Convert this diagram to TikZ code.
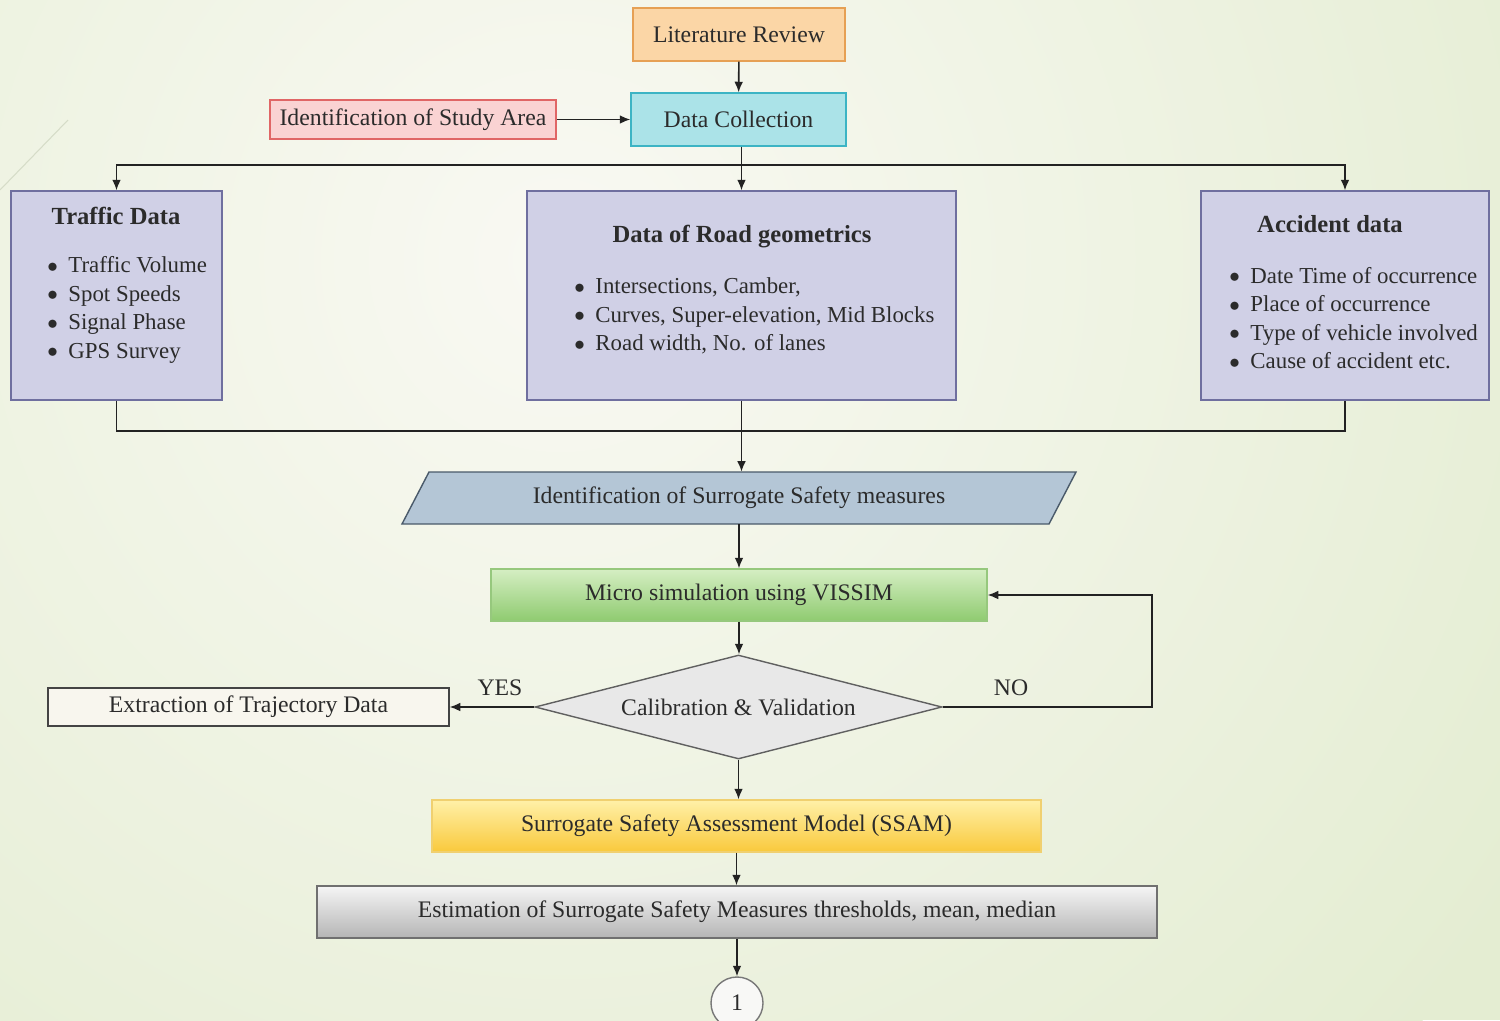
\documentclass[tikz,border=0pt]{standalone}
\usepackage{fontspec}
\setmainfont{Liberation Serif}
\usepackage{tikz}
\usetikzlibrary{arrows.meta,shapes.geometric}

\definecolor{txt}{HTML}{2B2B2B}
\definecolor{arrcol}{HTML}{222222}
\definecolor{bgin}{HTML}{F9F9F3}
\definecolor{bgout}{HTML}{E4EDD2}
\definecolor{bgline}{HTML}{D6DCC8}
\definecolor{litfill}{HTML}{FBD6A6}
\definecolor{litline}{HTML}{E6A054}
\definecolor{dcfill}{HTML}{ABE3E8}
\definecolor{dcline}{HTML}{3CB4C4}
\definecolor{safill}{HTML}{FAD3D3}
\definecolor{saline}{HTML}{E06666}
\definecolor{lav}{HTML}{D0D0E6}
\definecolor{lavline}{HTML}{6F6F9F}
\definecolor{ssmfill}{HTML}{B4C6D6}
\definecolor{ssmline}{HTML}{4A5A6A}
\definecolor{greentop}{HTML}{D5EEC3}
\definecolor{greenbot}{HTML}{8FCB70}
\definecolor{greenline}{HTML}{96C87D}
\definecolor{diafill}{HTML}{E8E8E8}
\definecolor{dialine}{HTML}{606060}
\definecolor{exfill}{HTML}{F8F6EE}
\definecolor{exline}{HTML}{444444}
\definecolor{yeltop}{HTML}{FFF0A8}
\definecolor{yelbot}{HTML}{F9C93C}
\definecolor{yelline}{HTML}{F0D070}
\definecolor{graytop}{HTML}{F5F5F5}
\definecolor{graybot}{HTML}{B5B5B5}
\definecolor{grayline}{HTML}{707070}
\definecolor{circline}{HTML}{787878}
\definecolor{circfill}{HTML}{F8F8F6}
\newcommand{\bul}{\raisebox{0.05ex}{\large$\bullet$}\hspace{6pt}}

\begin{document}
\begin{tikzpicture}[x=0.2mm,y=-0.2mm,
  every node/.style={text=txt,font=\fontsize{13.5}{16}\selectfont},
  box/.style={draw,rectangle,line width=0.8pt,inner sep=0pt},
  databox/.style={box,fill=lav,draw=lavline,minimum height=41.8mm},
  arr/.style={-{Latex[length=6pt,width=5pt]},line width=0.9pt,draw=arrcol},
  ln/.style={line width=0.9pt,draw=arrcol},
  title/.style={font=\fontsize{14}{16}\selectfont\bfseries},
  blist/.style={align=left,anchor=west,inner sep=0pt,font=\fontsize{13}{16.2}\selectfont}]

 % page and background
 \useasboundingbox (0,0) rectangle (1500,1020);
 \clip (0,0) rectangle (1500,1020);
 \fill[bgout] (0,0) rectangle (1500,1020);
 \shade[inner color=bgin,outer color=bgout] (560,260) circle (1150);
 \draw[bgline,line width=0.6pt] (0,190) -- (68,120);

 % top part
 \node[box,fill=litfill,draw=litline,minimum width=42.4mm,minimum height=10.6mm] (litrev) at (739,34.5) {Literature Review};
 \node[box,fill=dcfill,draw=dcline,minimum width=43mm,minimum height=10.6mm] (datacoll) at (738.5,119.5) {Data Collection};
 \node[box,fill=safill,draw=saline,minimum width=57.2mm,minimum height=7.8mm] (studyarea) at (413,119.5) {Identification of Study Area};

 % data boxes
 \foreach \name/\x/\w in {traffic/116.5/42.2, road/741.5/85.8, accident/1345/57.6}
   \node[databox,minimum width=\w mm] (\name) at (\x,295.5) {};

 \node[title] (traffictitle) at (116,216) {Traffic Data};
 \node[blist] (trafficlist) at (47,310) {\bul Traffic Volume\\ \bul Spot Speeds\\ \bul Signal Phase\\ \bul GPS Survey};
 \node[title] (roadtitle) at (742,237) {Data of Road geometrics};
 \node[blist] (roadlist) at (574,316) {\bul Intersections, Camber,\\ \bul Curves, Super-elevation, Mid Blocks\\ \bul Road width, No. of lanes};
 \node[title] (accidenttitle) at (1330,224) {Accident data};
 \node[blist] (accidentlist) at (1229,318) {\bul Date Time of occurrence\\ \bul Place of occurrence\\ \bul Type of vehicle involved\\ \bul Cause of accident etc.};

 % surrogate measures
 \draw[fill=ssmfill,draw=ssmline,line width=0.8pt] (429,472) -- (1076,472) -- (1049,524) -- (402,524) -- cycle;
 \node[inner sep=0pt,minimum height=10.4mm] (ssm) at (739,498) {Identification of Surrogate Safety measures};

 \node[box,top color=greentop,bottom color=greenbot,draw=greenline,minimum width=99.2mm,minimum height=10.4mm] (micro) at (739,595) {Micro simulation using VISSIM};
 \node[diamond,aspect=3.9,draw=dialine,fill=diafill,line width=0.8pt,inner sep=0pt,minimum width=81.4mm,minimum height=20.8mm] (calib) at (738.5,707) {Calibration \& Validation};
 \node[box,fill=exfill,draw=exline,minimum width=80.2mm,minimum height=7.6mm] (extract) at (248.5,707) {Extraction of Trajectory Data};
 \node[box,top color=yeltop,bottom color=yelbot,draw=yelline,minimum width=121.8mm,minimum height=10.4mm] (ssam) at (736.5,826) {Surrogate Safety Assessment Model (SSAM)};
 \node[box,top color=graytop,bottom color=graybot,draw=grayline,minimum width=168mm,minimum height=10.4mm] (estim) at (737,912) {Estimation of Surrogate Safety Measures thresholds, mean, median};
 \node[circle,draw=circline,fill=circfill,line width=0.8pt,minimum size=10.4mm,inner sep=0pt] (conn) at (737,1003) {1};

 \node (yes) at (500,688) {YES};
 \node (no) at (1011,688) {NO};

 % connectors
 \coordinate (bus) at (0,165);
 \coordinate (bus2) at (0,431);
 \coordinate (loop) at (1152,707);
 \draw[arr] (litrev) -- (datacoll);
 \draw[arr] (studyarea) -- (datacoll);
 \draw[arr] (datacoll.south -| road.north) -- (road.north);
 \draw[arr] (road.north |- bus) -| (traffic.north);
 \draw[arr] (road.north |- bus) -| (accident.north);
 \draw[ln] (traffic.south) |- (bus2 -| accident.south) -- (accident.south);
 \draw[arr] (road.south) -- (road.south |- ssm.north);
 \draw[arr] (ssm.south) -- (micro.north);
 \draw[arr] (micro.south) -- (micro.south |- calib.north);
 \draw[arr] (calib.west) -- (extract.east);
 \draw[arr] (calib.east) -- (loop) |- (micro.east);
 \draw[arr] (calib.south) -- (calib.south |- ssam.north);
 \draw[arr] (ssam.south) -- (ssam.south |- estim.north);
 \draw[arr] (estim.south) -- (conn.north);
\end{tikzpicture}
\end{document}
